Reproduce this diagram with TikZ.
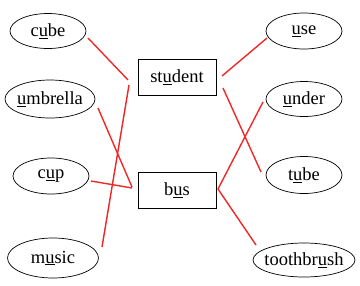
\documentclass[tikz,border=0pt]{standalone}
\usepackage{fontspec}
\setmainfont{Liberation Serif}
\usetikzlibrary{shapes.geometric}
\definecolor{linkred}{RGB}{240,40,40}
\tikzset{
  word/.style={draw, ellipse, inner sep=0pt, line width=0.7pt, font=\fontsize{18.5}{20}\selectfont},
  wordbox/.style={draw, rectangle, inner sep=0pt, minimum width=78pt, minimum height=36pt, line width=0.7pt, font=\fontsize{18.5}{20}\selectfont},
  link/.style={draw=linkred, line width=1.4pt}
}
\newcommand{\ul}[1]{\underline{#1}}
\newcommand{\zw}[1]{\makebox[0pt]{#1}}
\begin{document}
\begin{tikzpicture}[x=1pt,y=-1pt]
\useasboundingbox (0,0) rectangle (360,285);
% left words
\node[word, minimum width=76pt, minimum height=35pt] (cube) at (48,31) {\zw{c\ul{u}be}};
\node[word, minimum width=90pt, minimum height=38pt] (umbrella) at (50,99) {\zw{\ul{u}mbrella}};
\node[word, minimum width=76pt, minimum height=36pt] (cup) at (51,176) {\zw{c\ul{u}p}};
\node[word, minimum width=91pt, minimum height=40pt] (music) at (53,258) {\zw{m\ul{u}sic}};
% right words
\node[word, minimum width=76pt, minimum height=36pt] (use) at (304,31) {\zw{\ul{u}se}};
\node[word, minimum width=76pt, minimum height=35pt] (under) at (304,99) {\zw{\ul{u}nder}};
\node[word, minimum width=76pt, minimum height=37pt] (tube) at (304,175) {\zw{t\ul{u}be}};
\node[word, minimum width=102pt, minimum height=34pt] (toothbrush) at (304,260) {\zw{toothbr\ul{u}sh}};
% boxes
\node[wordbox] (student) at (177,77) {st\ul{u}dent};
\node[wordbox] (bus) at (177,190) {b\ul{u}s};
% connector end points
\coordinate (cubeE) at (88,38);
\coordinate (stuL1) at (128,80);
\coordinate (stuL2) at (129,85);
\coordinate (musicE) at (102,247);
\coordinate (umbE) at (98,108);
\coordinate (busL1) at (132,187);
\coordinate (cupE) at (91,181);
\coordinate (busL2) at (132,188);
\coordinate (stuR1) at (222,76);
\coordinate (useW) at (267,38);
\coordinate (stuR2) at (223,88);
\coordinate (tubeW) at (261,172);
\coordinate (busR) at (218,189);
\coordinate (underW) at (263,102);
\coordinate (toothW) at (256,245);
% connectors
\draw[link] (cubeE) -- (stuL1);
\draw[link] (stuL2) -- (musicE);
\draw[link] (umbE) -- (busL1);
\draw[link] (cupE) -- (busL2);
\draw[link] (stuR1) -- (useW);
\draw[link] (stuR2) -- (tubeW);
\draw[link] (busR) -- (underW);
\draw[link] (busR) -- (toothW);
\end{tikzpicture}
\end{document}
